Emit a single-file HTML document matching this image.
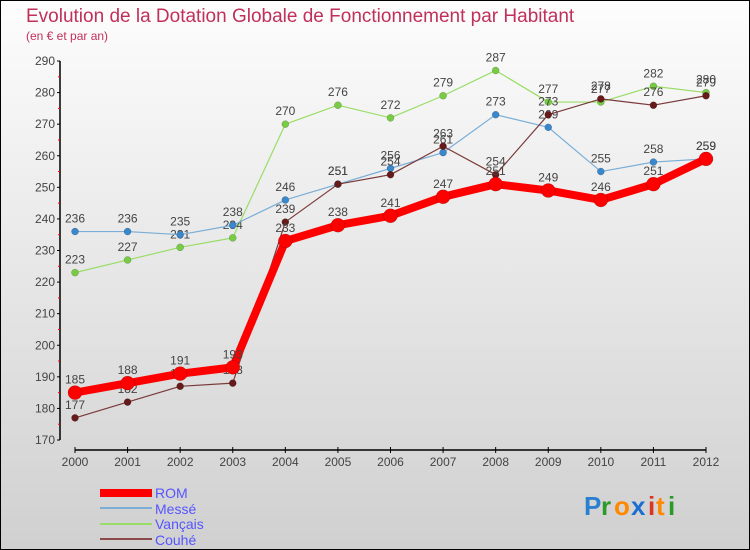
<!DOCTYPE html>
<html><head><meta charset="utf-8"><style>
body{margin:0;}
#c{width:750px;height:550px;position:relative;box-sizing:border-box;border:1px solid #000;background:linear-gradient(#fdfdfd,#d0d0d0);font-family:"Liberation Sans",sans-serif;overflow:hidden}
svg text{font-family:"Liberation Sans",sans-serif}
</style></head><body>
<div id="c">
<svg id="s" width="750" height="550" style="position:absolute;left:-1px;top:-1px">
<text x="26" y="22" font-size="19" fill="#c0305a">Evolution de la Dotation Globale de Fonctionnement par Habitant</text>
<text x="26" y="40" font-size="12" fill="#c0305a">(en € et par an)</text>
<g id="axes"></g><g id="series"></g>
<g>
<rect x="100" y="489" width="52" height="8" fill="#ff0000"/>
<text x="155" y="498" font-size="14" fill="#5555ff">ROM</text>
<line x1="100" y1="508" x2="152" y2="508" stroke="#7aaed6" stroke-width="2"/>
<text x="155" y="514" font-size="14" fill="#5555ff">Messé</text>
<line x1="100" y1="524" x2="152" y2="524" stroke="#99dd66" stroke-width="2"/>
<text x="155" y="529" font-size="14" fill="#5555ff">Vançais</text>
<line x1="100" y1="539" x2="152" y2="539" stroke="#8a4a4a" stroke-width="2"/>
<text x="155" y="545" font-size="14" fill="#5555ff">Couhé</text>
</g>
<g font-size="26" font-weight="bold">
<text x="584" y="515" fill="#2a7fd0">P</text><text x="601" y="515" fill="#2a9a2a">r</text><text x="614" y="515" fill="#ff8800">o</text><text x="631" y="515" fill="#1a6fd0">x</text><text x="648" y="515" fill="#dd3322">i</text><text x="656" y="515" fill="#ff8800">t</text><text x="668" y="515" fill="#2a9a2a">i</text>
</g>
</svg></div>
<script>
const years=[2000,2001,2002,2003,2004,2005,2006,2007,2008,2009,2010,2011,2012];
const rom=[185,188,191,193,233,238,241,247,251,249,246,251,259];
const messe=[236,236,235,238,246,251,256,261,273,269,255,258,259];
const vancais=[223,227,231,234,270,276,272,279,287,277,277,282,280];
const couhe=[177,182,187,188,239,251,254,263,254,273,278,276,279];
const yTicks=[170,180,190,200,210,220,230,240,250,260,270,280,290];
const NS="http://www.w3.org/2000/svg";
const X=i=>75+i*(706-75)/(years.length-1);
const Y=v=>440-(v-170)*(379/120);
function mk(t,a,p){const e=document.createElementNS(NS,t);for(const k in a)e.setAttribute(k,a[k]);p.appendChild(e);return e;}
const ax=document.getElementById('axes');
let l=mk('line',{x1:60,y1:Y(290),x2:60,y2:Y(170),stroke:'#000','stroke-width':1.5},ax);


yTicks.forEach((v,i)=>{
 let t=mk('line',{x1:57,y1:Y(v),x2:60,y2:Y(v),stroke:'#000'},ax);
 
 
 if(i<yTicks.length-1){let m=mk('line',{x1:58,y1:Y(v+5),x2:60,y2:Y(v+5),stroke:'#f00'},ax);
 
 }
 let tx=mk('text',{x:55,y:Y(v)+4,'font-size':12,fill:'#444','text-anchor':'end'},ax);tx.textContent=v;
 
 
});
l=mk('line',{x1:X(0),y1:450,x2:X(12),y2:450,stroke:'#000','stroke-width':1.5},ax);


years.forEach((y,i)=>{
 let t=mk('line',{x1:X(i),y1:447,x2:X(i),y2:453,stroke:'#000'},ax);
 
 
 let tx=mk('text',{x:X(i),y:466,'font-size':12,fill:'#444','text-anchor':'middle'},ax);tx.textContent=y;
 
 
});
const sg=document.getElementById('series');
function draw(name,d,col,w,r,dot,lblOff){
 const g=mk('g',{},sg);
 
 
 let p=mk('polyline',{points:d.map((v,i)=>X(i)+','+Y(v)).join(' '),fill:'none',stroke:col,'stroke-width':w,'stroke-linejoin':'round'},g);
 
 
 d.forEach((v,i)=>{
  let c=mk('circle',{cx:X(i),cy:Y(v),r:r,fill:dot,stroke:'rgba(0,0,0,0.3)','stroke-width':0.5},g);
  
  
  let t=mk('text',{x:X(i),y:Y(v)+lblOff,'font-size':12,fill:'#444','text-anchor':'middle'},g);t.textContent=v;
  
  
 });
}
draw('vancais',vancais,'#99dd66',1.2,3.5,'#77cc44',-9);
draw('messe',messe,'#7aaed6',1.2,3.5,'#3a88cc',-9);
draw('couhe',couhe,'#7a3a3a',1.2,3.5,'#661a1a',-9);
draw('rom',rom,'#ff0000',8,7,'#ff0000',-9);
</script>
</body></html>
